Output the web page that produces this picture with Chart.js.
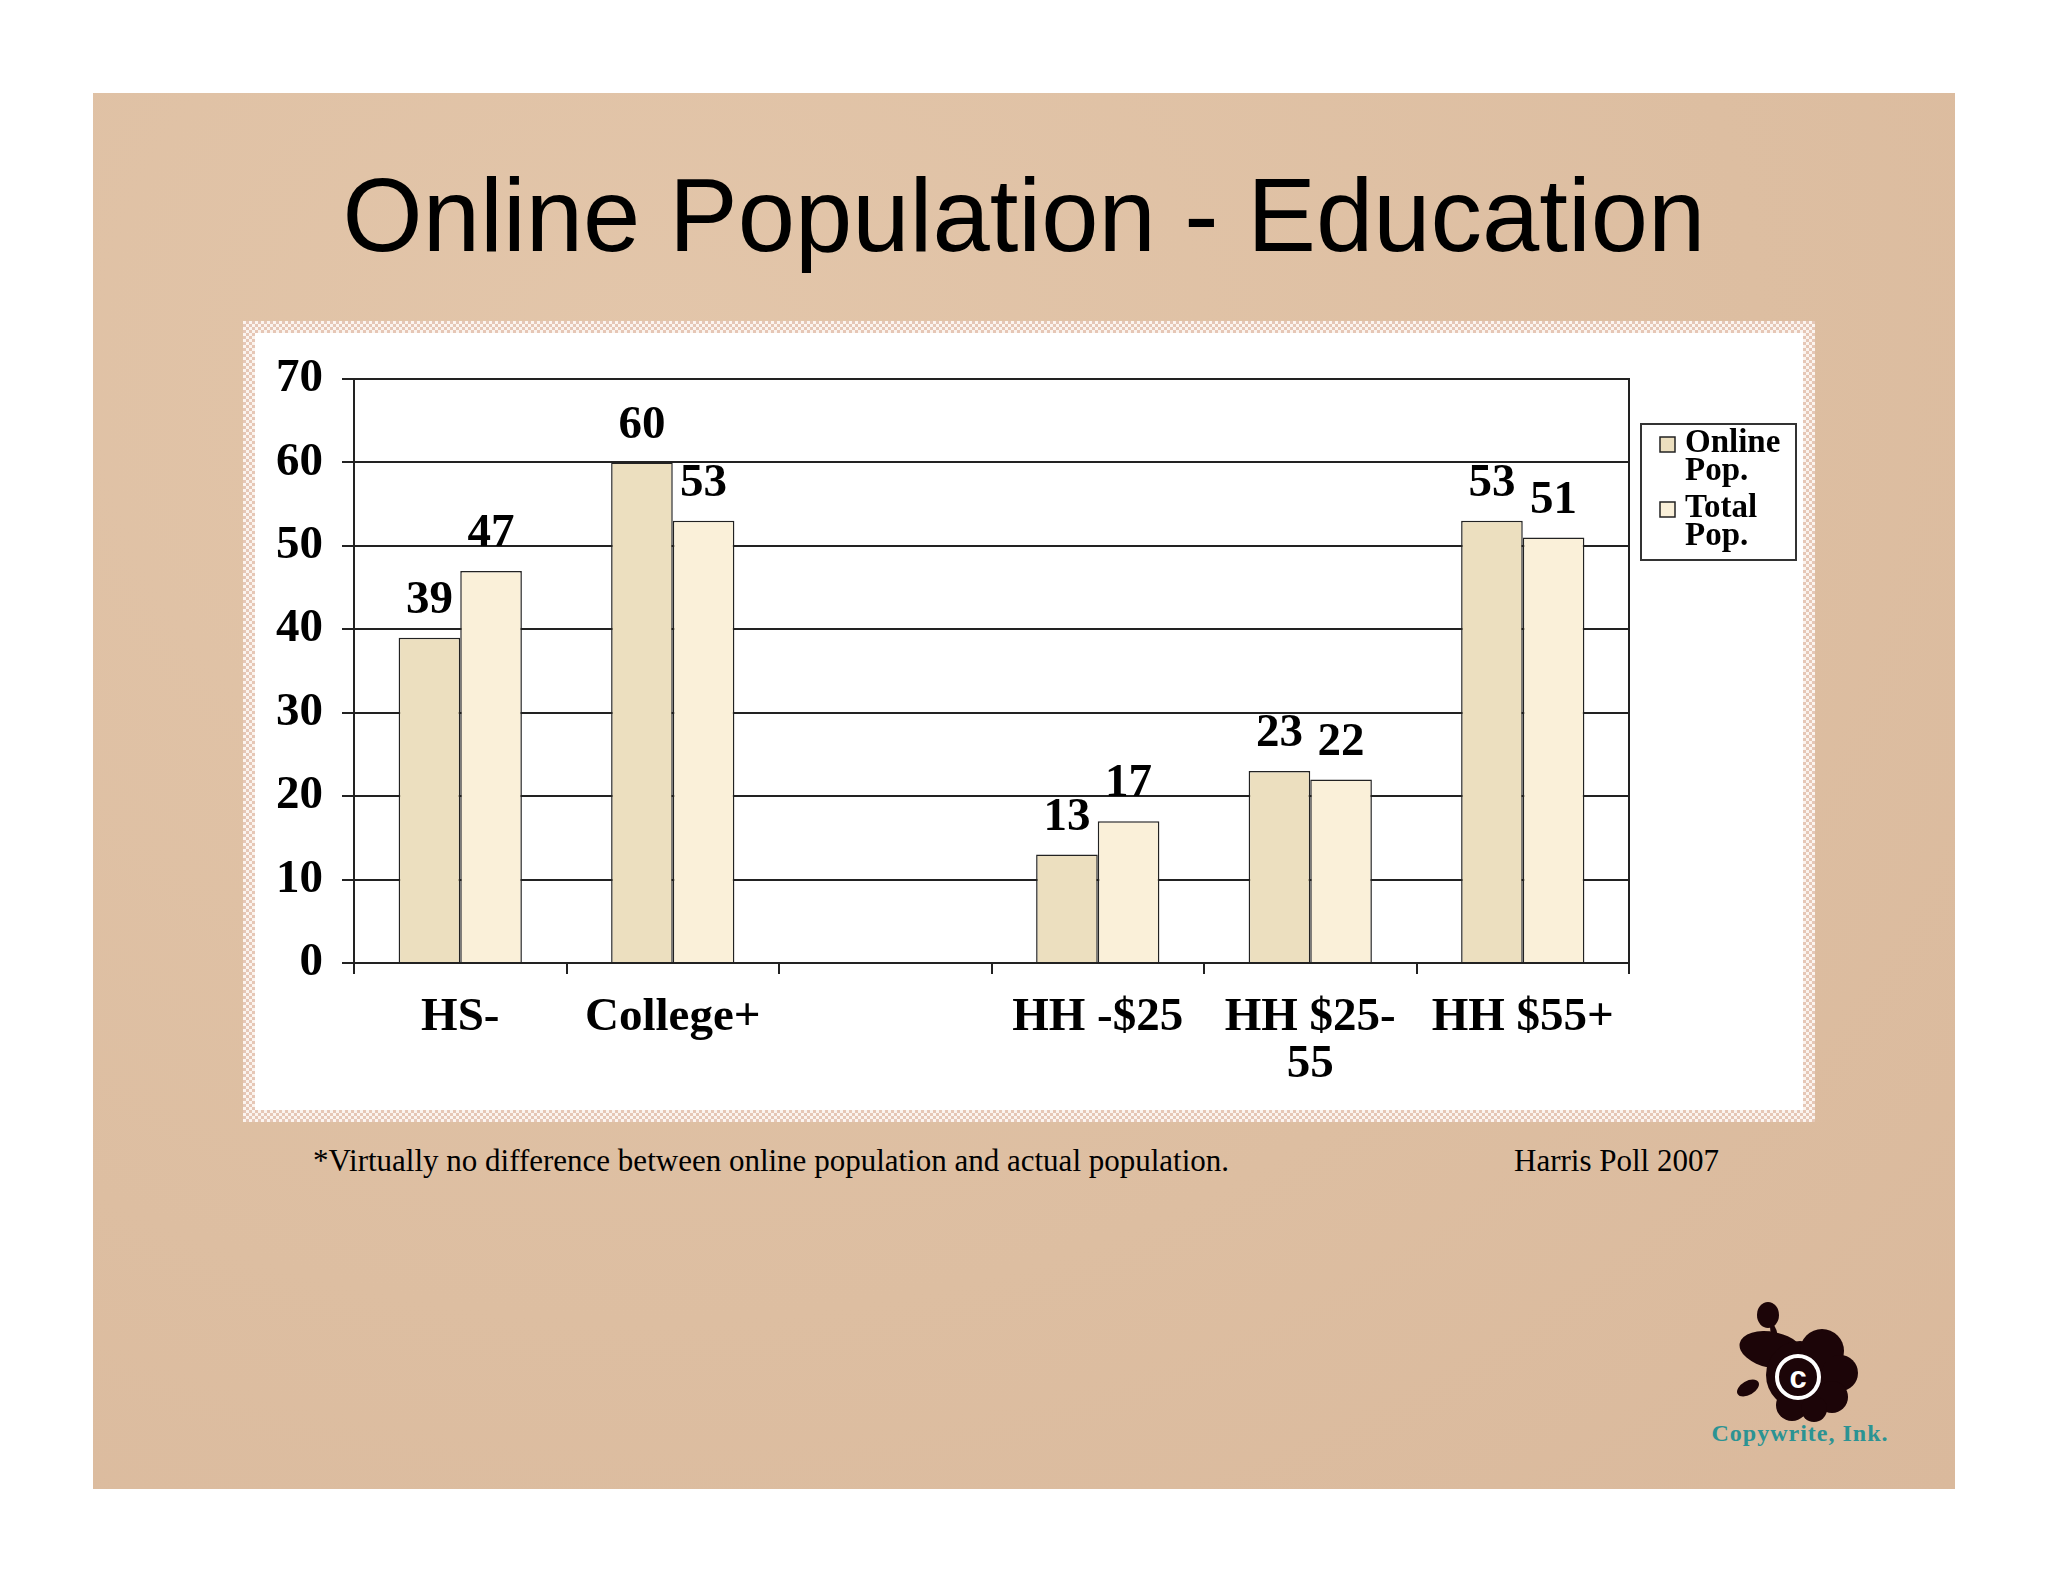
<!DOCTYPE html>
<html>
<head>
<meta charset="utf-8">
<script src="https://cdn.jsdelivr.net/npm/chart.js@4.4.0/dist/chart.umd.min.js"></script>
<style>
  body { margin: 0; background: #fff; width: 2048px; height: 1582px; position: relative; overflow: hidden; }
  #slide { position: absolute; left: 93px; top: 93px; width: 1862px; height: 1396px;
    background: radial-gradient(ellipse at 30% 20%, #e3c6aa 0%, #ddbea1 60%, #dab99c 100%); }
  #title { position: absolute; left: 93px; width: 1862px; top: 164px; text-align: center;
    font: 103px/1 "Liberation Sans", Arial, sans-serif; color: #000; }
  #panel { position: absolute; left: 243px; top: 321px; width: 1572px; height: 801px;
    background: repeating-conic-gradient(#e6c7b6 0% 25%, #fbf4ef 0% 50%) 0 0 / 6px 6px; }
  #panel div { position: absolute; left: 12px; top: 12px; right: 12px; bottom: 12px; background: #fff; }
  .note { position: absolute; top: 1145px; font: 31px/1 "Liberation Serif", "Times New Roman", serif; color: #000; }
  #logo { position: absolute; left: 1700px; top: 1295px; }
  #chart { position: absolute; left: 0; top: 0; }
</style>
</head>
<body>
<div id="slide"></div>
<div id="title">Online Population - Education</div>
<div id="panel"><div></div></div>
<div class="note" style="left:313px">*Virtually no difference between online population and actual population.</div>
<div class="note" style="left:1514px">Harris Poll 2007</div>
<svg id="logo" width="200" height="160" viewBox="0 0 200 160">
  <g fill="#1c0508">
    <ellipse cx="68" cy="20" rx="11" ry="13"/>
    <path d="M74 30 Q80 40 76 48 Q70 40 70 32 Z"/>
    <ellipse cx="48" cy="93" rx="12" ry="7" transform="rotate(-30 48 93)"/>
    <ellipse cx="72" cy="55" rx="33" ry="18" transform="rotate(12 72 55)"/>
    <circle cx="100" cy="80" r="34"/>
    <circle cx="122" cy="56" r="22"/>
    <circle cx="140" cy="78" r="18"/>
    <circle cx="132" cy="102" r="16"/>
    <circle cx="92" cy="110" r="16"/>
    <circle cx="114" cy="114" r="13"/>
  </g>
  <circle cx="98" cy="82" r="21" fill="none" stroke="#fff" stroke-width="4"/>
  <text x="98" y="93" text-anchor="middle" fill="#fff" font-family="Liberation Sans, sans-serif" font-weight="bold" font-size="31">c</text>
  <text x="100" y="146" text-anchor="middle" fill="#2b9393" font-family="Liberation Serif, serif" font-weight="bold" font-size="24" letter-spacing="1">Copywrite, Ink.</text>
</svg>
<canvas id="chart" width="2048" height="1582"></canvas>
<script>
const categories = ['HS-', 'College+', '', 'HH -$25', ['HH $25-', '55'], 'HH $55+'];
const onlinePop = [39, 60, null, 13, 23, 53];
const totalPop = [47, 53, null, 17, 22, 51];
const yMin = 0, yMax = 70, yStep = 10;

const serif = '"Liberation Serif", "Times New Roman", serif';

// value labels above each bar
const valueLabels = {
    id: 'valueLabels',
    afterDatasetsDraw(chart) {
        const ctx = chart.ctx;
        ctx.save();
        ctx.font = 'bold 47px ' + serif;
        ctx.fillStyle = '#000';
        ctx.textAlign = 'center';
        ctx.textBaseline = 'middle';
        chart.data.datasets.forEach((ds, i) => {
            chart.getDatasetMeta(i).data.forEach((bar, j) => {
                if (ds.data[j] == null) return;
                ctx.fillText(ds.data[j], bar.x, bar.y - 37);
            });
        });
        ctx.restore();
    }
};

// frame round the plot + boxed legend on the right
const frameLegend = {
    id: 'frameLegend',
    afterDraw(chart) {
        const ctx = chart.ctx, a = chart.chartArea;
        ctx.save();
        ctx.strokeStyle = '#222';
        ctx.lineWidth = 2;
        ctx.beginPath();
        ctx.moveTo(a.left, a.top);
        ctx.lineTo(a.right, a.top);
        ctx.lineTo(a.right, a.bottom);
        ctx.stroke();

        const lx = a.right + 12, ly = a.top + 45;
        ctx.strokeStyle = '#333';
        ctx.strokeRect(lx, ly, 155, 136);
        ctx.font = 'bold 33px ' + serif;
        ctx.textBaseline = 'alphabetic';
        ctx.textAlign = 'left';
        let y = ly + 28;
        chart.data.datasets.forEach(ds => {
            ctx.fillStyle = ds.backgroundColor;
            ctx.fillRect(lx + 19, y - 15, 15, 15);
            ctx.strokeStyle = '#222';
            ctx.lineWidth = 1.5;
            ctx.strokeRect(lx + 19, y - 15, 15, 15);
            ctx.fillStyle = '#000';
            ds.label.split(' ').forEach((w, k) => {
                ctx.fillText(w, lx + 44, y + k * 28);
            });
            y += 65;
        });
        ctx.restore();
    }
};

new Chart(document.getElementById('chart'), {
    type: 'bar',
    data: {
        labels: categories,
        datasets: [{
            label: 'Online Pop.',
            data: onlinePop,
            backgroundColor: '#ecdfbf',
            borderColor: '#222',
            borderWidth: 1.5
        },
        {
            label: 'Total Pop.',
            data: totalPop,
            backgroundColor: '#faf0d9',
            borderColor: '#222',
            borderWidth: 1.5
        }]
    },
    options: {
        responsive: false,
        animation: false,
        devicePixelRatio: 1,
        layout: { padding: { left: 254, top: 379, right: 419, bottom: 469 } },
        datasets: { bar: { categoryPercentage: 0.58, barPercentage: 1.0 } },
        plugins: {
            legend: { display: false },
            tooltip: { enabled: false }
        },
        scales: {
            y: {
                min: yMin,
                max: yMax,
                ticks: { stepSize: yStep, padding: 19, color: '#000', font: { family: serif, size: 47, weight: 'bold' } },
                grid: { color: '#222', lineWidth: 2, tickLength: 12 },
                border: { color: '#222', width: 2 },
                afterFit(scale) { scale.width = 100; }
            },
            x: {
                ticks: { padding: 20, color: '#000', maxRotation: 0, autoSkip: false,
                    font: { family: serif, size: 47, weight: 'bold', lineHeight: 1.0 } },
                grid: { drawOnChartArea: false, color: '#222', lineWidth: 2, tickLength: 11, offset: true },
                border: { color: '#222', width: 2 },
                afterFit(scale) { scale.height = 150; }
            }
        }
    },
    plugins: [valueLabels, frameLegend]
});
</script>
</body>
</html>
